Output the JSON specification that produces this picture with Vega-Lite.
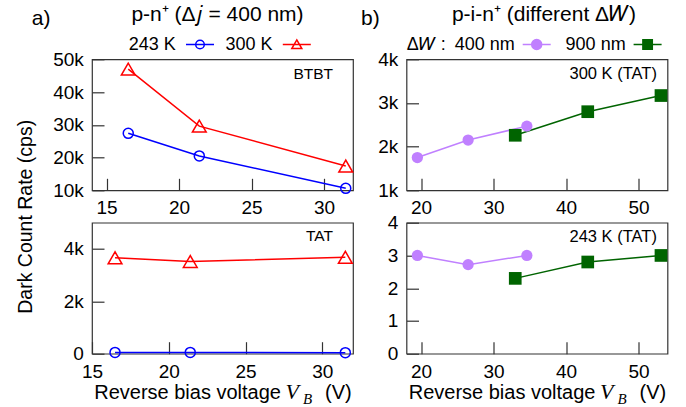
{
  "$schema": "https://vega.github.io/schema/vega-lite/v6.json",
  "autosize": {"type": "none"},
  "padding": {"left": 92, "top": 59.3, "right": 594, "bottom": 347.7},
  "datasets": {
    "pn_btbt": [
      {"T": "243 K", "V": 16.5, "DCR": 27400},
      {"T": "243 K", "V": 21.4, "DCR": 20500},
      {"T": "243 K", "V": 31.5, "DCR": 10600},
      {"T": "300 K", "V": 16.5, "DCR": 47000},
      {"T": "300 K", "V": 21.4, "DCR": 29600},
      {"T": "300 K", "V": 31.5, "DCR": 17400}
    ],
    "pn_tat": [
      {"T": "243 K", "V": 16.5, "DCR": 50},
      {"T": "243 K", "V": 21.4, "DCR": 50},
      {"T": "243 K", "V": 31.5, "DCR": 40},
      {"T": "300 K", "V": 16.5, "DCR": 3660},
      {"T": "300 K", "V": 21.4, "DCR": 3520},
      {"T": "300 K", "V": 31.5, "DCR": 3680}
    ],
    "pin_300": [
      {"W": "400 nm", "V": 19.5, "DCR": 1750},
      {"W": "400 nm", "V": 26.5, "DCR": 2150},
      {"W": "400 nm", "V": 34.6, "DCR": 2470},
      {"W": "900 nm", "V": 33.0, "DCR": 2260},
      {"W": "900 nm", "V": 43.0, "DCR": 2800},
      {"W": "900 nm", "V": 53.1, "DCR": 3170}
    ],
    "pin_243": [
      {"W": "400 nm", "V": 19.5, "DCR": 3.0},
      {"W": "400 nm", "V": 26.5, "DCR": 2.72},
      {"W": "400 nm", "V": 34.6, "DCR": 3.0},
      {"W": "900 nm", "V": 33.0, "DCR": 2.3},
      {"W": "900 nm", "V": 43.0, "DCR": 2.8},
      {"W": "900 nm", "V": 53.1, "DCR": 3.0}
    ],
    "note": [{}]
  },
  "config": {
    "font": "Liberation Sans",
    "view": {"stroke": "#333", "strokeWidth": 1.2},
    "axis": {
      "grid": false, "domain": false,
      "tickSize": -12, "tickColor": "#333", "tickWidth": 1.2,
      "labelFont": "Liberation Sans", "labelFontSize": 19, "labelColor": "#000",
      "labelFlush": false, "labelOverlap": false,
      "titleFont": "Liberation Sans", "titleFontSize": 20, "titleFontWeight": "normal", "titleColor": "#000"
    },
    "axisX": {"labelPadding": 35.5, "labelBaseline": "alphabetic"},
    "axisY": {"labelPadding": 20.7},
    "legend": {
      "orient": "none", "direction": "horizontal",
      "labelFontSize": 18, "labelColor": "#000", "labelFont": "Liberation Sans",
      "labelAlign": "left", "labelOffset": -16, "symbolSize": 4, "symbolStrokeWidth": 1.5,
      "titleFont": "Liberation Sans", "titleFontSize": 18, "titleFontWeight": "normal", "titleColor": "#000"
    },
    "text": {"font": "Liberation Sans", "color": "#000"}
  },
  "columns": 2,
  "bounds": "flush",
  "spacing": {"row": 32.4, "column": 53.5},
  "resolve": {
    "scale": {"color": "independent", "shape": "independent", "size": "independent", "stroke": "independent", "fill": "independent"},
    "legend": {"color": "independent", "shape": "independent", "size": "independent", "stroke": "independent", "fill": "independent"}
  },
  "concat": [
    {
      "width": 261, "height": 131,
      "resolve": {
        "scale": {"color": "independent", "shape": "independent", "size": "independent", "stroke": "independent"},
        "legend": {"color": "independent", "shape": "independent", "size": "independent", "stroke": "independent"}
      },
      "layer": [
        {
          "data": {"name": "pn_btbt"},
          "mark": {"type": "line", "strokeWidth": 1.5},
          "encoding": {
            "x": {"field": "V", "type": "quantitative", "scale": {"domain": [14, 32], "nice": false, "zero": false},
                  "axis": {"title": null, "values": [15, 20, 25, 30], "tickCount": 10}},
            "y": {"field": "DCR", "type": "quantitative", "scale": {"domain": [10000, 50000], "nice": false, "zero": false},
                  "axis": {"values": [10000, 20000, 30000, 40000, 50000], "tickCount": 10, "labelExpr": "datum.value / 1000 + 'k'",
                           "title": "Dark Count Rate (cps)", "titleFontSize": 19.5, "titleX": -60.3, "titleY": 157,
                           "titleAngle": -90, "titleAlign": "center", "titleBaseline": "alphabetic"}},
            "color": {"field": "T", "type": "nominal",
                      "scale": {"domain": ["243 K", "300 K"], "range": ["#0000ff", "#ff0000"]}, "legend": null}
          }
        },
        {
          "data": {"name": "pn_btbt"},
          "mark": {"type": "point", "filled": false, "strokeWidth": 1.5, "opacity": 1},
          "encoding": {
            "x": {"field": "V", "type": "quantitative"},
            "y": {"field": "DCR", "type": "quantitative"},
            "color": {"field": "T", "type": "nominal", "scale": {"domain": ["243 K", "300 K"], "range": ["#0000ff", "#ff0000"]}, "legend": null},
            "shape": {"field": "T", "type": "nominal", "scale": {"domain": ["243 K", "300 K"], "range": ["circle", "triangle-up"]}, "legend": null},
            "size": {"field": "T", "type": "nominal", "scale": {"domain": ["243 K", "300 K"], "range": [100, 190]}, "legend": null}
          }
        },
        {
          "data": {"name": "pn_btbt"},
          "transform": [{"filter": "false"}],
          "mark": {"type": "point", "filled": false, "strokeWidth": 1.5, "opacity": 1, "size": 4},
          "encoding": {
            "x": {"field": "V", "type": "quantitative"},
            "y": {"field": "DCR", "type": "quantitative"},
            "stroke": {"field": "T", "type": "nominal",
                       "scale": {"domain": ["243 K", "300 K"], "range": ["#0000ff", "#ff0000"]},
                       "legend": {"title": null, "legendX": 34.7, "legendY": -23.8, "columnPadding": 5.8}},
            "shape": {"field": "T", "type": "nominal",
                      "scale": {"domain": ["243 K", "300 K"],
                                "range": ["M50.3,0L78.3,0M68.6,0A4.3,4.3,0,1,1,60,0A4.3,4.3,0,1,1,68.6,0", "M50.3,0L78.3,0M64.3,-4.6L69.3,4L59.3,4Z"]},
                      "legend": {"title": null, "legendX": 34.7, "legendY": -23.8, "columnPadding": 5.8}}
          }
        },
        {
          "data": {"name": "note"},
          "mark": {"type": "text", "align": "left", "baseline": "alphabetic", "fontSize": 21, "dx": -60.3, "dy": -34.3},
          "encoding": {"x": {"datum": 14}, "y": {"datum": 50000}, "text": {"value": "a)"}}
        },
        {
          "data": {"name": "note"},
          "mark": {"type": "text", "align": "center", "baseline": "alphabetic", "fontSize": 21, "dx": -5, "dy": -38.6},
          "encoding": {"x": {"datum": 23}, "y": {"datum": 50000}, "text": {"value": "p-n⁺ (Δ𝑗 = 400 nm)"}}
        },
        {
          "data": {"name": "note"},
          "mark": {"type": "text", "align": "right", "baseline": "alphabetic", "fontSize": 15.5, "dx": -20, "dy": 20},
          "encoding": {"x": {"datum": 32}, "y": {"datum": 50000}, "text": {"value": "BTBT"}}
        }
      ]
    },
    {
      "width": 261, "height": 131,
      "resolve": {
        "scale": {"color": "independent", "shape": "independent", "size": "independent", "stroke": "independent", "fill": "independent"},
        "legend": {"color": "independent", "shape": "independent", "size": "independent", "stroke": "independent", "fill": "independent"}
      },
      "layer": [
        {
          "data": {"name": "pin_300"},
          "mark": {"type": "line", "strokeWidth": 1.5},
          "encoding": {
            "x": {"field": "V", "type": "quantitative", "scale": {"domain": [18, 54], "nice": false, "zero": false},
                  "axis": {"title": null, "values": [20, 30, 40, 50], "tickCount": 10}},
            "y": {"field": "DCR", "type": "quantitative", "scale": {"domain": [1000, 4000], "nice": false, "zero": false},
                  "axis": {"values": [1000, 2000, 3000, 4000], "tickCount": 10, "labelExpr": "datum.value / 1000 + 'k'", "title": null}},
            "color": {"field": "W", "type": "nominal",
                      "scale": {"domain": ["400 nm", "900 nm"], "range": ["#c080ff", "#006400"]}, "legend": null}
          }
        },
        {
          "data": {"name": "pin_300"},
          "mark": {"type": "point", "filled": true, "opacity": 1},
          "encoding": {
            "x": {"field": "V", "type": "quantitative"},
            "y": {"field": "DCR", "type": "quantitative"},
            "color": {"field": "W", "type": "nominal", "scale": {"domain": ["400 nm", "900 nm"], "range": ["#c080ff", "#006400"]}, "legend": null},
            "shape": {"field": "W", "type": "nominal", "scale": {"domain": ["400 nm", "900 nm"], "range": ["circle", "square"]}, "legend": null},
            "size": {"field": "W", "type": "nominal", "scale": {"domain": ["400 nm", "900 nm"], "range": [127, 161]}, "legend": null}
          }
        },
        {
          "data": {"name": "pin_300"},
          "transform": [{"filter": "false"}],
          "mark": {"type": "point", "filled": true, "strokeWidth": 1.5, "opacity": 1, "size": 4},
          "encoding": {
            "x": {"field": "V", "type": "quantitative"},
            "y": {"field": "DCR", "type": "quantitative"},
            "fill": {"field": "W", "type": "nominal",
                     "scale": {"domain": ["400 nm", "900 nm"], "range": ["#c080ff", "#006400"]},
                     "legend": {"title": "Δ𝑊 :", "titleOrient": "left", "titlePadding": 3, "titleBaseline": "middle", "legendX": 0.2, "legendY": -23.8, "columnPadding": 6.9, "labelOffset": -13}},
            "stroke": {"field": "W", "type": "nominal",
                       "scale": {"domain": ["400 nm", "900 nm"], "range": ["#c080ff", "#006400"]},
                       "legend": {"title": "Δ𝑊 :", "titleOrient": "left", "titlePadding": 3, "titleBaseline": "middle", "legendX": 0.2, "legendY": -23.8, "columnPadding": 6.9, "labelOffset": -13}},
            "shape": {"field": "W", "type": "nominal",
                      "scale": {"domain": ["400 nm", "900 nm"],
                                "range": ["M64,0L92,0M83,0A5,5,0,1,1,73,0A5,5,0,1,1,83,0", "M64,0L92,0M73.3,-4.7L82.7,-4.7L82.7,4.7L73.3,4.7Z"]},
                      "legend": {"title": "Δ𝑊 :", "titleOrient": "left", "titlePadding": 3, "titleBaseline": "middle", "legendX": 0.2, "legendY": -23.8, "columnPadding": 6.9, "labelOffset": -13}}
          }
        },
        {
          "data": {"name": "note"},
          "mark": {"type": "text", "align": "left", "baseline": "alphabetic", "fontSize": 21, "dx": -45.5, "dy": -34.3},
          "encoding": {"x": {"datum": 18}, "y": {"datum": 4000}, "text": {"value": "b)"}}
        },
        {
          "data": {"name": "note"},
          "mark": {"type": "text", "align": "center", "baseline": "alphabetic", "fontSize": 21, "dx": 7, "dy": -38.6},
          "encoding": {"x": {"datum": 36}, "y": {"datum": 4000}, "text": {"value": "p-i-n⁺ (different Δ𝑊)"}}
        },
        {
          "data": {"name": "note"},
          "mark": {"type": "text", "align": "right", "baseline": "alphabetic", "fontSize": 16.5, "dx": -10.6, "dy": 20},
          "encoding": {"x": {"datum": 54}, "y": {"datum": 4000}, "text": {"value": "300 K (TAT)"}}
        }
      ]
    },
    {
      "width": 261, "height": 131,
      "layer": [
        {
          "data": {"name": "pn_tat"},
          "mark": {"type": "line", "strokeWidth": 1.5},
          "encoding": {
            "x": {"field": "V", "type": "quantitative", "scale": {"domain": [15, 32], "nice": false, "zero": false},
                  "axis": {"title": null, "values": [15, 20, 25, 30], "tickCount": 10}},
            "y": {"field": "DCR", "type": "quantitative", "scale": {"domain": [0, 5000], "nice": false, "zero": false},
                  "axis": {"values": [0, 2000, 4000], "tickCount": 10, "labelExpr": "datum.value === 0 ? '0' : datum.value / 1000 + 'k'", "title": null}},
            "color": {"field": "T", "type": "nominal",
                      "scale": {"domain": ["243 K", "300 K"], "range": ["#0000ff", "#ff0000"]}, "legend": null}
          }
        },
        {
          "data": {"name": "pn_tat"},
          "mark": {"type": "point", "filled": false, "strokeWidth": 1.5, "opacity": 1},
          "encoding": {
            "x": {"field": "V", "type": "quantitative"},
            "y": {"field": "DCR", "type": "quantitative"},
            "color": {"field": "T", "type": "nominal"},
            "shape": {"field": "T", "type": "nominal", "scale": {"domain": ["243 K", "300 K"], "range": ["circle", "triangle-up"]}, "legend": null},
            "size": {"field": "T", "type": "nominal", "scale": {"domain": ["243 K", "300 K"], "range": [100, 190]}, "legend": null}
          }
        },
        {
          "data": {"name": "note"},
          "mark": {"type": "text", "align": "right", "baseline": "alphabetic", "fontSize": 15.5, "dx": -20, "dy": 18},
          "encoding": {"x": {"datum": 32}, "y": {"datum": 5000}, "text": {"value": "TAT"}}
        },
        {
          "data": {"name": "note"},
          "mark": {"type": "text", "align": "right", "baseline": "alphabetic", "fontSize": 20, "dx": 58.5, "dy": 45},
          "encoding": {"x": {"datum": 23.5}, "y": {"datum": 0}, "text": {"value": "Reverse bias voltage"}}
        },
        {
          "data": {"name": "note"},
          "mark": {"type": "text", "align": "left", "baseline": "alphabetic", "fontSize": 22, "font": "Liberation Serif", "fontStyle": "italic", "dx": 63, "dy": 45},
          "encoding": {"x": {"datum": 23.5}, "y": {"datum": 0}, "text": {"value": "V"}}
        },
        {
          "data": {"name": "note"},
          "mark": {"type": "text", "align": "left", "baseline": "alphabetic", "fontSize": 15, "font": "Liberation Serif", "fontStyle": "italic", "dx": 80.5, "dy": 50},
          "encoding": {"x": {"datum": 23.5}, "y": {"datum": 0}, "text": {"value": "B"}}
        },
        {
          "data": {"name": "note"},
          "mark": {"type": "text", "align": "left", "baseline": "alphabetic", "fontSize": 20, "dx": 102.5, "dy": 45},
          "encoding": {"x": {"datum": 23.5}, "y": {"datum": 0}, "text": {"value": "(V)"}}
        }
      ]
    },
    {
      "width": 261, "height": 131,
      "layer": [
        {
          "data": {"name": "pin_243"},
          "mark": {"type": "line", "strokeWidth": 1.5},
          "encoding": {
            "x": {"field": "V", "type": "quantitative", "scale": {"domain": [18, 54], "nice": false, "zero": false},
                  "axis": {"title": null, "values": [20, 30, 40, 50], "tickCount": 10}},
            "y": {"field": "DCR", "type": "quantitative", "scale": {"domain": [0, 4], "nice": false, "zero": false},
                  "axis": {"values": [0, 1, 2, 3, 4], "tickCount": 10, "format": "d", "title": null}},
            "color": {"field": "W", "type": "nominal",
                      "scale": {"domain": ["400 nm", "900 nm"], "range": ["#c080ff", "#006400"]}, "legend": null}
          }
        },
        {
          "data": {"name": "pin_243"},
          "mark": {"type": "point", "filled": true, "opacity": 1},
          "encoding": {
            "x": {"field": "V", "type": "quantitative"},
            "y": {"field": "DCR", "type": "quantitative"},
            "color": {"field": "W", "type": "nominal"},
            "shape": {"field": "W", "type": "nominal", "scale": {"domain": ["400 nm", "900 nm"], "range": ["circle", "square"]}, "legend": null},
            "size": {"field": "W", "type": "nominal", "scale": {"domain": ["400 nm", "900 nm"], "range": [127, 161]}, "legend": null}
          }
        },
        {
          "data": {"name": "note"},
          "mark": {"type": "text", "align": "right", "baseline": "alphabetic", "fontSize": 16.5, "dx": -10.6, "dy": 19},
          "encoding": {"x": {"datum": 54}, "y": {"datum": 4}, "text": {"value": "243 K (TAT)"}}
        },
        {
          "data": {"name": "note"},
          "mark": {"type": "text", "align": "right", "baseline": "alphabetic", "fontSize": 20, "dx": 58.5, "dy": 45},
          "encoding": {"x": {"datum": 36}, "y": {"datum": 0}, "text": {"value": "Reverse bias voltage"}}
        },
        {
          "data": {"name": "note"},
          "mark": {"type": "text", "align": "left", "baseline": "alphabetic", "fontSize": 22, "font": "Liberation Serif", "fontStyle": "italic", "dx": 63, "dy": 45},
          "encoding": {"x": {"datum": 36}, "y": {"datum": 0}, "text": {"value": "V"}}
        },
        {
          "data": {"name": "note"},
          "mark": {"type": "text", "align": "left", "baseline": "alphabetic", "fontSize": 15, "font": "Liberation Serif", "fontStyle": "italic", "dx": 80.5, "dy": 50},
          "encoding": {"x": {"datum": 36}, "y": {"datum": 0}, "text": {"value": "B"}}
        },
        {
          "data": {"name": "note"},
          "mark": {"type": "text", "align": "left", "baseline": "alphabetic", "fontSize": 20, "dx": 102.5, "dy": 45},
          "encoding": {"x": {"datum": 36}, "y": {"datum": 0}, "text": {"value": "(V)"}}
        }
      ]
    }
  ]
}
